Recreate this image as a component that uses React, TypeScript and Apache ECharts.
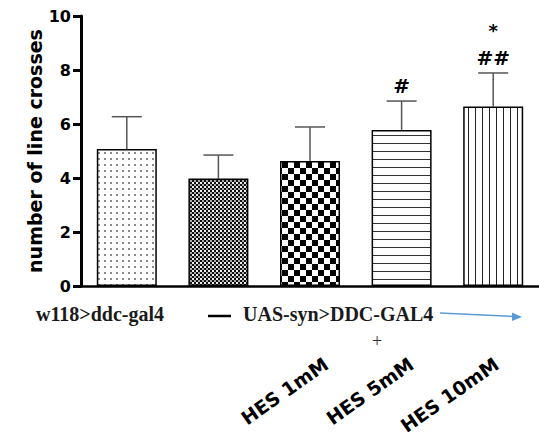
import React, { useEffect, useRef } from "react";
import * as echarts from "echarts";

const groups = [
  "w118>ddc-gal4",
  "UAS-syn>DDC-GAL4",
  "UAS-syn>DDC-GAL4 + HES 1mM",
  "UAS-syn>DDC-GAL4 + HES 5mM",
  "UAS-syn>DDC-GAL4 + HES 10mM",
];
const doseLabels = ["", "", "HES 1mM", "HES 5mM", "HES 10mM"];
const means = [5.07, 3.98, 4.63, 5.78, 6.65];
const sems = [1.2, 0.87, 1.26, 1.07, 1.24];
const sigHash = ["", "", "", "#", "##"];
const sigStar = ["", "", "", "", "*"];
const yTicks = [0, 2, 4, 6, 8, 10];

function makePattern(w: number, h: number, draw: (ctx: CanvasRenderingContext2D) => void) {
  const c = document.createElement("canvas");
  c.width = w;
  c.height = h;
  const ctx = c.getContext("2d")!;
  ctx.fillStyle = "#fff";
  ctx.fillRect(0, 0, w, h);
  draw(ctx);
  return { image: c, repeat: "repeat", imageWidth: w, imageHeight: h } as any;
}

export default function App() {
  const ref = useRef<HTMLDivElement>(null);
  useEffect(() => {
    if (!ref.current) return;
    const chart = echarts.init(ref.current, null, { renderer: "svg" });

    const patterns = [
      makePattern(6, 6, (ctx) => {
        ctx.fillStyle = "#8a8a8a";
        ctx.fillRect(2, 2, 2, 2);
      }),
      makePattern(4, 4, (ctx) => {
        ctx.fillStyle = "#111";
        ctx.fillRect(0, 0, 2, 2);
        ctx.fillRect(2, 2, 2, 2);
        ctx.fillStyle = "#aaa";
        ctx.fillRect(2, 0, 2, 2);
        ctx.fillStyle = "#eee";
        ctx.fillRect(0, 2, 2, 2);
      }),
      makePattern(12, 12, (ctx) => {
        ctx.fillStyle = "#000";
        ctx.fillRect(0, 0, 6, 6);
        ctx.fillRect(6, 6, 6, 6);
      }),
      makePattern(8, 8, (ctx) => {
        ctx.fillStyle = "#333";
        ctx.fillRect(0, 7, 8, 1.5);
      }),
      makePattern(7, 7, (ctx) => {
        ctx.fillStyle = "#222";
        ctx.fillRect(6, 0, 1.2, 7);
      }),
    ];

    const option: any = {
      animation: false,
      backgroundColor: "#fff",
      grid: [
        { left: 81, top: 16, width: 460, height: 270 },
        { left: 113, top: 16, width: 460, height: 270 },
      ],
      xAxis: [
        {
          type: "category",
          gridIndex: 0,
          data: groups,
          axisLine: { lineStyle: { color: "#000", width: 2.5 } },
          axisTick: { alignWithLabel: true, length: 7, lineStyle: { color: "#000", width: 3 } },
          axisLabel: { show: false },
        },
        {
          type: "category",
          gridIndex: 1,
          data: doseLabels,
          axisLine: { show: false },
          axisTick: { show: false },
          axisLabel: {
            show: true,
            interval: 0,
            rotate: 35,
            margin: 80,
            color: "#000",
            fontFamily: "DejaVu Sans",
            fontWeight: "bold",
            fontSize: 19,
          },
        },
      ],
      yAxis: [
        {
          type: "value",
          gridIndex: 0,
          min: yTicks[0],
          max: yTicks[yTicks.length - 1],
          interval: 2,
          splitLine: { show: false },
          axisLine: { show: true, lineStyle: { color: "#000", width: 3 } },
          axisTick: { show: true, length: 8, lineStyle: { color: "#000", width: 3 } },
          axisLabel: {
            margin: 10,
            color: "#000",
            fontFamily: "DejaVu Sans",
            fontWeight: "bold",
            fontSize: 16,
          },
          name: "number of line crosses",
          nameLocation: "middle",
          nameGap: 37,
          nameMoveOverlap: false,
          nameTextStyle: {
            color: "#000",
            fontFamily: "DejaVu Sans",
            fontWeight: "bold",
            fontSize: 19,
          },
        },
        { type: "value", gridIndex: 1, min: 0, max: 10, show: false },
      ],
      series: [
        {
          type: "bar",
          xAxisIndex: 0,
          yAxisIndex: 0,
          barWidth: 60,
          data: means.map((v, i) => ({
            value: v,
            itemStyle: { color: patterns[i], borderColor: "#000", borderWidth: 1.5 },
          })),
        },
        {
          type: "custom",
          xAxisIndex: 0,
          yAxisIndex: 0,
          z: 1,
          data: means.map((m, i) => [i, m, sems[i]]),
          renderItem: (params: any, api: any) => {
            const i = api.value(0);
            const m = api.value(1);
            const s = api.value(2);
            const base = api.coord([i, m]);
            const top = api.coord([i, m + s]);
            const half = 15;
            const st = { stroke: "#555", lineWidth: 1.5 };
            const children: any[] = [
              { type: "line", shape: { x1: base[0], y1: base[1], x2: top[0], y2: top[1] }, style: st },
              { type: "line", shape: { x1: top[0] - half, y1: top[1], x2: top[0] + half, y2: top[1] }, style: st },
            ];
            if (sigHash[i]) {
              children.push({
                type: "text",
                x: top[0],
                y: top[1] - 15,
                style: {
                  text: sigHash[i],
                  fill: "#000",
                  fontFamily: "DejaVu Sans",
                  fontWeight: "bold",
                  fontSize: 20,
                  align: "center",
                  verticalAlign: "middle",
                },
              });
            }
            if (sigStar[i]) {
              children.push({
                type: "text",
                x: top[0],
                y: top[1] - 42,
                style: {
                  text: sigStar[i],
                  fill: "#000",
                  fontFamily: "DejaVu Sans",
                  fontWeight: "bold",
                  fontSize: 18,
                  align: "center",
                  verticalAlign: "middle",
                },
              });
            }
            return { type: "group", children };
          },
        },
      ],
      graphic: [
        {
          type: "text",
          left: 36,
          top: 304,
          style: {
            text: groups[0],
            fill: "#1a1a1a",
            fontFamily: "Liberation Serif",
            fontWeight: "bold",
            fontSize: 20,
          },
        },
        {
          type: "line",
          shape: { x1: 208, y1: 316, x2: 231, y2: 316 },
          style: { stroke: "#000", lineWidth: 2.5 },
        },
        {
          type: "text",
          left: 243,
          top: 304,
          style: {
            text: groups[1],
            fill: "#1a1a1a",
            fontFamily: "Liberation Serif",
            fontWeight: "bold",
            fontSize: 20,
          },
        },
        {
          type: "line",
          shape: { x1: 440, y1: 313, x2: 514, y2: 316.5 },
          style: { stroke: "#5b9bd5", lineWidth: 1.5 },
        },
        {
          type: "polygon",
          shape: { points: [[522, 317], [512, 312.5], [512, 321]] },
          style: { fill: "#5b9bd5" },
        },
        {
          type: "text",
          left: 372,
          top: 332,
          style: {
            text: "+",
            fill: "#333",
            fontFamily: "Liberation Serif",
            fontSize: 18,
          },
        },
      ],
    };
    chart.setOption(option);
    return () => chart.dispose();
  }, []);
  return (
    <div
      ref={ref}
      style={{ position: "absolute", left: 0, top: 0, width: 539, height: 437 }}
    />
  );
}
